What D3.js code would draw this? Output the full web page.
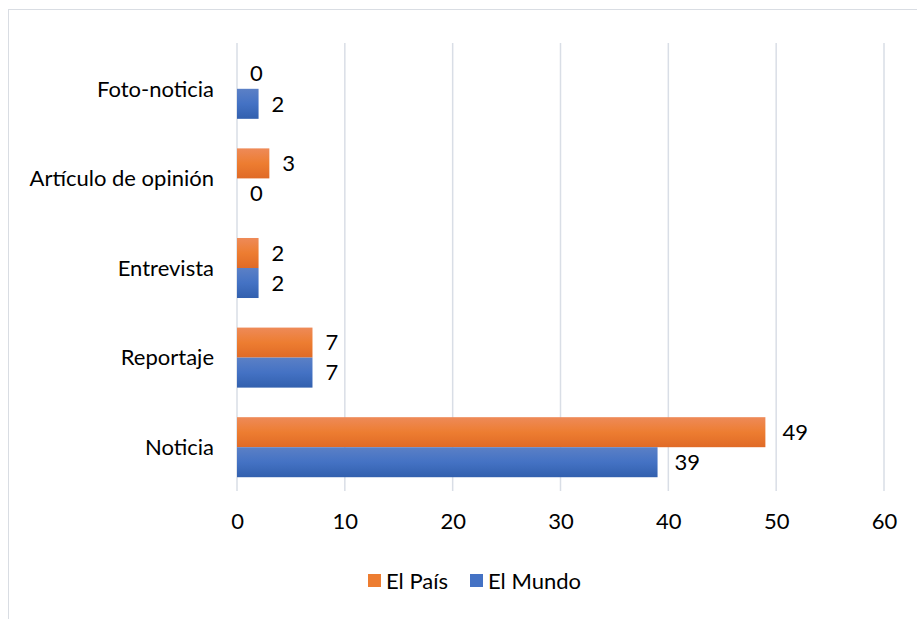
<!DOCTYPE html>
<html><head><meta charset="utf-8">
<script src="https://cdn.jsdelivr.net/npm/d3@7"></script>
<style>body{margin:0;background:#fff}svg{display:block}text{font-family:Lato,"Open Sans",sans-serif;fill:#000}</style>
</head><body>
<svg id="c" width="917" height="619"></svg>
<script>
const categories = ["Foto-noticia","Artículo de opinión","Entrevista","Reportaje","Noticia"];
const elPais = [0,3,2,7,49];
const elMundo = [2,0,2,7,39];
const ticks = [0,10,20,30,40,50,60];
const seriesNames = ["El País","El Mundo"];

const svg = d3.select("#c");
const W=917,H=619;
const FS="22px";
svg.append("rect").attr("x",8.5).attr("y",9.5).attr("width",W).attr("height",H).attr("fill","#fff").attr("stroke","#D9DDE3").attr("stroke-width",1);

const defs = svg.append("defs");
function grad(id,top,mid,bot){
  const g=defs.append("linearGradient").attr("id",id).attr("x1",0).attr("x2",0).attr("y1",0).attr("y2",1);
  g.append("stop").attr("offset","0%").attr("stop-color",top);
  g.append("stop").attr("offset","50%").attr("stop-color",mid);
  g.append("stop").attr("offset","100%").attr("stop-color",bot);
}
grad("gO","#EE8A58","#ED7D31","#E06A26");
grad("gB","#5B80C6","#4472C4","#3260AE");

const x = d3.scaleLinear().domain([0,60]).range([237,884]);
const y = d3.scaleBand().domain(categories).range([44,492]).paddingInner(0.33).paddingOuter(0.165);
const sub = d3.scaleBand().domain(seriesNames).range([0,y.bandwidth()]);

svg.append("g").selectAll("line").data(ticks).join("line")
  .attr("x1",d=>x(d)).attr("x2",d=>x(d)).attr("y1",43).attr("y2",491)
  .attr("stroke","#D9DEE6").attr("stroke-width",1.5);

const ax = svg.append("g").attr("transform","translate(0,491)").call(d3.axisBottom(x).tickValues(ticks).tickSize(0).tickPadding(22));
ax.select(".domain").remove();
ax.selectAll("text").style("font-size",FS).style("font-family","Lato,'Open Sans',sans-serif").attr("fill","#000");

svg.append("g").selectAll("text").data(categories).join("text")
  .attr("x",214).attr("y",d=>y(d)+y.bandwidth()/2).attr("dy","0.35em")
  .attr("text-anchor","end").style("font-size",FS).text(d=>d);

const rows = categories.map((c,i)=>({c,vals:[elPais[i],elMundo[i]]}));
const fills=["url(#gO)","url(#gB)"];
rows.forEach(r=>{
  r.vals.forEach((v,j)=>{
    const yy = y(r.c)+sub(seriesNames[j]);
    if(v>0) svg.append("rect").attr("x",x(0)).attr("y",yy).attr("width",x(v)-x(0)).attr("height",sub.bandwidth()).attr("fill",fills[j]);
    svg.append("text").attr("x",x(v)+(v>=10?17:13)).attr("y",yy+sub.bandwidth()/2).attr("dy","0.35em")
      .style("font-size",FS).text(v);
  });
});

const leg = svg.append("g");
const legX=[368,470], legCol=["#ED7D31","#4472C4"];
seriesNames.forEach((n,j)=>{
  leg.append("rect").attr("x",legX[j]).attr("y",574).attr("width",13).attr("height",13).attr("fill",legCol[j]);
  leg.append("text").attr("x",legX[j]+18).attr("y",581).attr("dy","0.35em").style("font-size",FS).text(n);
});
</script>
</body></html>
